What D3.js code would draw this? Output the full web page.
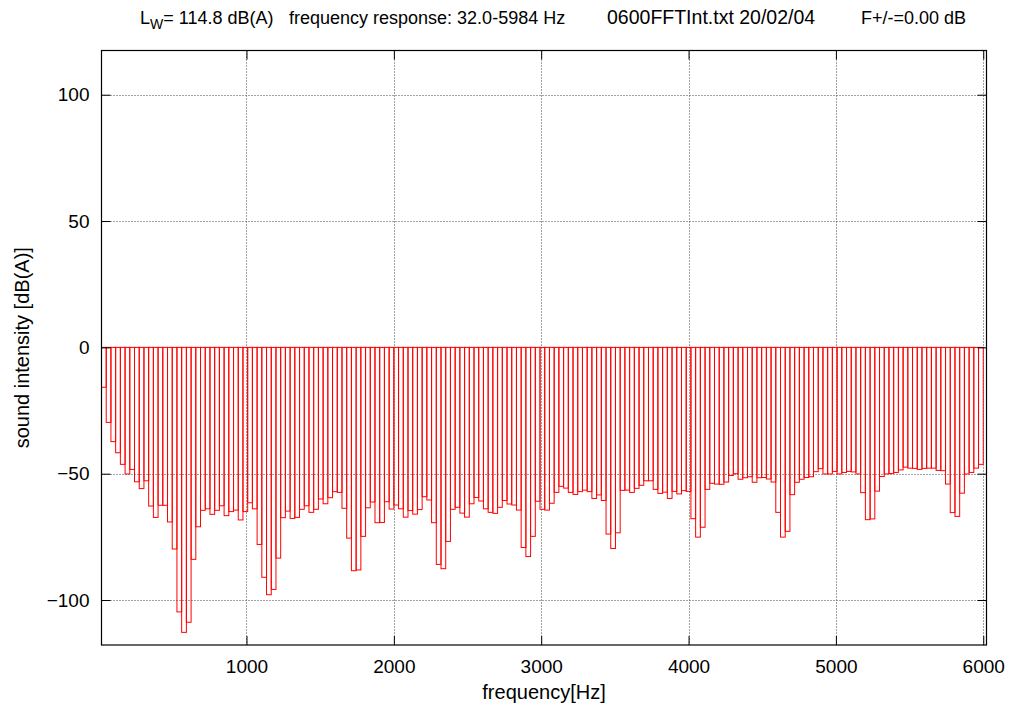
<!DOCTYPE html>
<html>
<head>
<meta charset="utf-8">
<script src="https://cdn.jsdelivr.net/npm/d3@7"></script>
<style>
  html, body { margin: 0; padding: 0; background: #fff; }
  svg { display: block; }
  text { font-family: "Liberation Sans", Arial, sans-serif; fill: #000; }
</style>
</head>
<body>
<svg id="chart" width="1010" height="708"></svg>
<script>
// ---- data ----
const binWidth = 32; // Hz, spacing of the FFT bins
const frequencies = d3.range(1, 188).map(i => i * 32); // 32 ... 5984 Hz
const intensities = [
  -15.8, -29.7, -37.3, -41.7, -46.3, -50.1, -48.3, -53.2, -55.9, -52.8,
  -62.8, -67.3, -62.5, -62.5, -69.1, -79.8, -104.7, -112.8, -108.8, -83.9,
  -71.0, -64.5, -63.9, -66.1, -64.5, -62.7, -66.6, -65.0, -64.4, -68.3,
  -65.0, -61.5, -63.9, -78.0, -91.0, -97.9, -95.8, -83.4, -67.4, -64.8,
  -67.7, -67.3, -64.1, -62.7, -65.3, -64.1, -60.0, -61.9, -59.5, -57.1,
  -57.4, -63.7, -75.5, -88.4, -88.1, -74.8, -63.5, -61.2, -69.4, -69.3,
  -61.1, -64.0, -62.4, -63.9, -67.2, -64.6, -66.0, -64.2, -59.1, -60.4,
  -69.4, -85.9, -87.6, -76.8, -64.1, -63.3, -65.6, -67.2, -61.9, -59.4,
  -60.8, -63.9, -65.3, -65.7, -63.3, -60.6, -62.0, -62.4, -64.4, -79.2,
  -82.8, -74.8, -60.9, -64.1, -64.4, -61.7, -57.4, -55.0, -55.7, -57.4,
  -58.2, -57.1, -56.5, -57.1, -59.8, -58.4, -60.6, -73.9, -79.6, -73.4,
  -56.6, -56.5, -57.4, -55.8, -54.6, -52.8, -52.8, -56.2, -57.8, -57.3,
  -59.8, -57.0, -58.0, -56.7, -57.0, -67.8, -75.1, -71.2, -56.2, -53.8,
  -54.1, -54.2, -53.3, -50.7, -50.0, -52.2, -51.6, -51.2, -53.4, -51.6,
  -51.5, -52.1, -53.3, -65.3, -75.1, -72.8, -58.3, -53.4, -52.2, -51.5,
  -51.2, -49.2, -48.0, -50.1, -50.1, -49.1, -50.1, -49.5, -49.1, -49.3,
  -50.1, -57.5, -68.2, -67.9, -56.9, -51.1, -50.1, -49.9, -49.5, -48.5,
  -47.4, -47.8, -47.9, -48.3, -47.9, -47.8, -47.8, -48.7, -48.8, -54.1,
  -65.4, -66.9, -57.7, -50.1, -49.5, -47.8, -46.3
];
const xTicks = [1000, 2000, 3000, 4000, 5000, 6000];
const yTicks = [-100, -50, 0, 50, 100];
const xDomain = [16, 6022];
const yDomain = [-117.8, 117.5];
const titleParts = ["frequency response: 32.0-5984 Hz", "0600FFTInt.txt 20/02/04", "F+/-=0.00 dB"];
const lwValue = "= 114.8 dB(A)";
const xLabel = "frequency[Hz]";
const yLabel = "sound intensity [dB(A)]";

// ---- layout ----
const margin = { left: 101.5, right: 1010 - 986.5, top: 50.5, bottom: 708 - 645 };
const W = 1010, H = 708;
const svg = d3.select("#chart");
const iw = W - margin.left - margin.right;
const ih = H - margin.top - margin.bottom;

const x = d3.scaleLinear().domain(xDomain).range([margin.left, margin.left + iw]);
const y = d3.scaleLinear().domain(yDomain).range([margin.top + ih, margin.top]);

const fontSize = 18;

// grid
const grid = svg.append("g");
grid.selectAll(".gx").data(xTicks).join("line")
  .attr("x1", d => Math.round(x(d)) + 0.5).attr("x2", d => Math.round(x(d)) + 0.5)
  .attr("y1", margin.top).attr("y2", margin.top + ih)
  .attr("stroke", "#444").attr("stroke-width", 1).attr("stroke-dasharray", "1,2");
grid.selectAll(".gy").data(yTicks).join("line")
  .attr("y1", d => Math.round(y(d)) + 0.5).attr("y2", d => Math.round(y(d)) + 0.5)
  .attr("x1", margin.left).attr("x2", margin.left + iw)
  .attr("stroke", "#444").attr("stroke-width", 1).attr("stroke-dasharray", "1,2");

// bars (outlined boxes, gnuplot "with boxes" style)
svg.append("g").selectAll("rect").data(frequencies).join("rect")
  .attr("x", (d) => x(d - binWidth / 2))
  .attr("width", d => x(d + binWidth / 2) - x(d - binWidth / 2))
  .attr("y", y(0))
  .attr("height", (d, i) => y(intensities[i]) - y(0))
  .attr("fill", "none")
  .attr("stroke", "#ff0000")
  .attr("stroke-width", 1);

// axes with inward ticks (mirror on all sides)
const tickLen = 9;
const axB = svg.append("g").attr("transform", `translate(0,${margin.top + ih})`)
  .call(d3.axisBottom(x).tickValues(xTicks).tickFormat(d3.format("d")).tickSizeInner(-tickLen).tickSizeOuter(0).tickPadding(15));
const axT = svg.append("g").attr("transform", `translate(0,${margin.top})`)
  .call(d3.axisTop(x).tickValues(xTicks).tickSizeInner(-tickLen).tickSizeOuter(0).tickFormat(""));
const axL = svg.append("g").attr("transform", `translate(${margin.left},0)`)
  .call(d3.axisLeft(y).tickValues(yTicks).tickFormat(d3.format("d")).tickSizeInner(-tickLen).tickSizeOuter(0).tickPadding(12));
const axR = svg.append("g").attr("transform", `translate(${margin.left + iw},0)`)
  .call(d3.axisRight(y).tickValues(yTicks).tickSizeInner(-tickLen).tickSizeOuter(0).tickFormat(""));
[axB, axT, axL, axR].forEach(a => {
  a.select(".domain").remove();
  a.selectAll(".tick line").attr("stroke", "#000").attr("stroke-width", 1);
  a.selectAll("text").attr("font-size", 19).attr("font-family", "Liberation Sans, Arial, sans-serif");
});

// frame
svg.append("rect")
  .attr("x", margin.left).attr("y", margin.top)
  .attr("width", iw).attr("height", ih)
  .attr("fill", "none").attr("stroke", "#000").attr("stroke-width", 1.2);

// axis labels
svg.append("text")
  .attr("x", margin.left + iw / 2).attr("y", 699)
  .attr("text-anchor", "middle").attr("font-size", 20)
  .text(xLabel);
svg.append("text")
  .attr("transform", `translate(29,${margin.top + ih / 2}) rotate(-90)`)
  .attr("text-anchor", "middle").attr("font-size", 20)
  .text(yLabel);

// title
const t0 = svg.append("text").attr("x", 140).attr("y", 24).attr("font-size", fontSize);
t0.append("tspan").text("L");
t0.append("tspan").attr("dy", 5).attr("font-size", 14).text("W");
t0.append("tspan").attr("dy", -5).text(lwValue);
const titleX = [289, 607, 861];
titleParts.forEach((s, i) => {
  svg.append("text").attr("x", titleX[i]).attr("y", 24).attr("font-size", i === 1 ? 19.5 : fontSize).text(s);
});
</script>
</body>
</html>
